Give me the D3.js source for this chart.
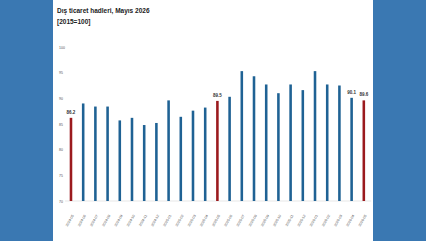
<!DOCTYPE html>
<html>
<head>
<meta charset="utf-8">
<script src="https://cdn.jsdelivr.net/npm/d3@7"></script>
<style>
  body { margin: 0; background: #3a78b2; }
  #chart { position: absolute; left: 53px; top: 0; width: 320px; height: 241px; background: #fff; }
  text { font-family: "Liberation Sans Narrow", "Liberation Sans", Arial, sans-serif; }
</style>
</head>
<body>
<div id="chart"></div>
<script>
//data
const months = ["2024-05","2024-06","2024-07","2024-08","2024-09","2024-10","2024-11","2024-12",
  "2025-01","2025-02","2025-03","2025-04","2025-05","2025-06","2025-07","2025-08","2025-09","2025-10",
  "2025-11","2025-12","2026-01","2026-02","2026-03","2026-04","2026-05"];
const values = [86.2, 89.0, 88.4, 88.4, 85.7, 86.2, 84.8, 85.2, 89.6, 86.4, 87.6, 88.2, 89.5,
  90.3, 95.3, 94.3, 92.7, 91.0, 92.7, 91.6, 95.3, 92.7, 92.5, 90.1, 89.6];
const highlighted = ["2024-05", "2025-05", "2026-05"]; //same month, red bars
const labelled = ["2024-05", "2025-05", "2026-04", "2026-05"];
const yTicks = [70, 75, 80, 85, 90, 95, 100];

const width = 320, height = 241;
const margin = {top: 47, bottom: 40, left: 10.6, right: 1.8};

var svg = d3.select("#chart").append("svg")
  .attr("width", width).attr("height", height);

svg.append("text").attr("x", 4).attr("y", 13)
  .style("font-size", "6.5px").style("font-weight", "bold").attr("fill", "#222")
  .text("Dış ticaret hadleri, Mayıs 2026");
svg.append("text").attr("x", 4).attr("y", 24)
  .style("font-size", "6.5px").style("font-weight", "bold").attr("fill", "#222")
  .text("[2015=100]");

var x = d3.scaleBand()
  .domain(months)
  .range([margin.left, width - margin.right])
  .paddingInner(0.79)
  .paddingOuter(0.5);
var y = d3.scaleLinear()
  .domain([70, 100])
  .range([height - margin.bottom, margin.top]);

//y axis labels, no line
svg.append("g")
  .attr("transform", "translate(10,0)")
  .call(d3.axisLeft(y).tickValues(yTicks).tickSize(0).tickPadding(0))
  .call(g => g.select(".domain").remove())
  .selectAll("text").style("font-size", "3.5px").attr("fill", "#555").attr("text-anchor", "start").attr("x", -4);

//baseline
svg.append("line")
  .attr("x1", 12).attr("x2", width - margin.right)
  .attr("y1", y(70)).attr("y2", y(70))
  .attr("stroke", "#ddd").attr("stroke-width", 0.7);

svg.selectAll(".bar")
  .data(months)
  .enter()
  .append("rect")
  .attr("class", "bar")
  .attr("x", function(d) { return x(d) })
  .attr("y", function(d, i) { return y(values[i]) })
  .attr("width", x.bandwidth())
  .attr("height", function(d, i) { return y(70) - y(values[i]) })
  .attr("fill", function(d) { return highlighted.includes(d) ? "#9b1a1e" : "#1f6294" });

svg.selectAll(".lbl")
  .data(months.filter(d => labelled.includes(d)))
  .enter()
  .append("text")
  .attr("class", "lbl")
  .attr("x", function(d) { return x(d) + x.bandwidth() / 2 })
  .attr("y", function(d) { return y(values[months.indexOf(d)]) - 4 })
  .attr("text-anchor", "middle")
  .style("font-size", "4.5px").style("font-weight", "bold").attr("fill", "#333")
  .text(function(d) { return values[months.indexOf(d)].toFixed(1) });

//x axis labels, rotated
svg.append("g")
  .attr("transform", "translate(0," + (y(70) + 4) + ")")
  .call(d3.axisBottom(x).tickSize(0).tickPadding(0))
  .call(g => g.select(".domain").remove())
  .selectAll("text")
  .style("font-size", "3.5px").attr("fill", "#555")
  .attr("text-anchor", "end")
  .attr("dy", "0.3em")
  .attr("transform", "translate(2,10) rotate(-60)");
</script>
</body>
</html>
